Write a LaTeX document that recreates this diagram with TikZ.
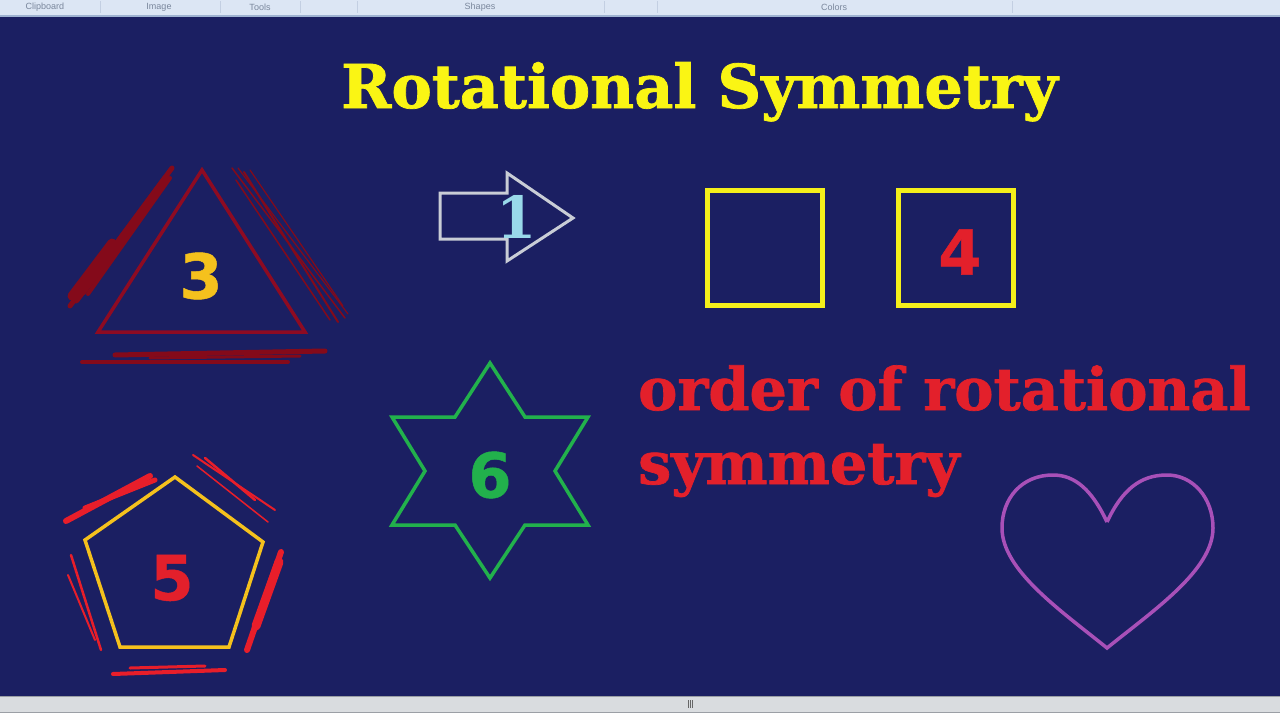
\documentclass[tikz,border=0pt]{standalone}
\usepackage{fontspec}
\usepackage{tikz}
\newfontfamily\slabfont{DejaVu Serif}
\newfontfamily\heavyfont{DejaVu Serif Bold}[FakeBold=1.2]
\newfontfamily\digitfont{DejaVu Sans Bold}[FakeBold=0.8]
\newfontfamily\uifont{Liberation Sans}
\definecolor{Navy}       {HTML}{1B1F62}
\definecolor{BarBlue}    {HTML}{DCE6F4}
\definecolor{BarEdge}    {HTML}{9FB3D1}
\definecolor{BarSep}     {HTML}{C3CFE2}
\definecolor{BarText}    {HTML}{7A879C}
\definecolor{ScrollGrey} {HTML}{D9DCDF}
\definecolor{ScrollEdge} {HTML}{9A9EA4}
\definecolor{TitleYellow}{HTML}{FAF514}
\definecolor{OrderRed}   {HTML}{E3202B}
\definecolor{TriRed}     {HTML}{8E0B22}
\definecolor{ScribRed}   {HTML}{840A1A}
\definecolor{Gold}       {HTML}{F5C11D}
\definecolor{ArrowGrey}  {HTML}{C9CDD6}
\definecolor{OneCyan}    {HTML}{99D9EA}
\definecolor{SqYellow}   {HTML}{F5EF1A}
\definecolor{StarGreen}  {HTML}{22B14C}
\definecolor{HeartPurple}{HTML}{A850B8}
\definecolor{PentRed}    {HTML}{E81E2A}

\begin{document}
\begin{tikzpicture}[x=1pt, y=-1pt,
  digit/.style={inner sep=0pt, font=\digitfont\fontsize{62}{62}\selectfont},
  outline/.style={line width=3.5pt, line join=miter},
  scrib/.style={line cap=round}]

  \useasboundingbox (0,0) rectangle (1280,720);
  \fill[Navy] (0,0) rectangle (1280,720);

  % ===== TOOLBAR (top) =====
  \fill[BarBlue] (0,0) rectangle (1280,15);
  \fill[BarEdge] (0,15) rectangle (1280,17);
  \foreach \x in {100,220,300,357,604,657,1012}
    \draw[BarSep, line width=0.8pt] (\x,1) -- (\x,13);
  \foreach \x/\lab/\nm in {45/Clipboard/tbClip,159/Image/tbImage,260/Tools/tbTools,480/Shapes/tbShapes,834/Colors/tbColors}
    \node[text=BarText, inner sep=0pt, font=\uifont\fontsize{9}{9}\selectfont] (\nm) at (\x,7) {\lab};

  % ===== SCROLLBAR (bottom) =====
  \fill[ScrollEdge] (0,696) rectangle (1280,697);
  \fill[ScrollGrey] (0,697) rectangle (1280,712);
  \fill[ScrollEdge] (0,712) rectangle (1280,713);
  \fill[white!94!ScrollGrey] (0,713) rectangle (1280,720);
  \foreach \x in {688,690,692}
    \draw[black!60, line width=0.7pt] (\x,700) -- (\x,708);

  % ===== TITLE =====
  \node[anchor=base west, inner sep=0pt, text=TitleYellow,
        font=\heavyfont\fontsize{60.5}{70}\selectfont] (title) at (341,108) {Rotational Symmetry};

  % ===== TRIANGLE (3) =====
  \draw[scrib, ScribRed, line width=5pt] (70,306) -- (172,168);
  \draw[scrib, ScribRed, line width=7pt] (76,300) -- (166,178);
  \draw[scrib, ScribRed, line width=8pt] (82,292) -- (154,196);
  \draw[scrib, ScribRed, line width=9pt] (72,296) -- (112,243);
  \draw[scrib, ScribRed, line width=4pt] (88,294) -- (170,178);
  \draw[scrib, ScribRed, line width=1.5pt] (232,168) -- (345,318);
  \draw[scrib, ScribRed, line width=1.2pt] (238,168) -- (348,314);
  \draw[scrib, ScribRed, line width=2pt] (244,172) -- (338,322);
  \draw[scrib, ScribRed, line width=1.2pt] (250,170) -- (343,306);
  \draw[scrib, ScribRed, line width=1.5pt] (236,180) -- (330,320);
  \draw[scrib, ScribRed, line width=4pt] (82,362) -- (288,362);
  \draw[scrib, ScribRed, line width=5pt] (115,355) -- (325,351);
  \draw[scrib, ScribRed, line width=3pt] (150,358) -- (300,356);
  \draw[outline, TriRed] (202,170) -- (305,332) -- (98,332) -- cycle;
  \node[digit, text=Gold] (numThree) at (201,276) {3};

  % ===== ARROW (1) =====
  \draw[outline, ArrowGrey, line width=3pt]
        (440,193) -- (507,193) -- (507,173) -- (573,218) -- (507,261) -- (507,239) -- (440,239) -- cycle;
  \node[inner sep=0pt, text=OneCyan, font=\slabfont\bfseries\fontsize{58}{58}\selectfont] (numOne) at (517,217) {1};

  % ===== SQUARES (4) =====
  \draw[outline, SqYellow, line width=4.5pt] (707.5,190.5) rectangle (822.5,305.5);
  \draw[outline, SqYellow, line width=4.5pt] (898.5,190.5) rectangle (1013.5,305.5);
  \node[digit, text=OrderRed] (numFour) at (960,252) {4};

  % ===== STAR (6) =====
  \draw[outline, StarGreen]
        (490,363) -- (455,417) -- (392,417) -- (425,471) -- (392,525) -- (455,525)
        -- (490,578) -- (525,525) -- (588,525) -- (555,471) -- (588,417) -- (525,417) -- cycle;
  \node[digit, text=StarGreen] (numSix) at (490,475) {6};

  % ===== PENTAGON (5) =====
  \draw[scrib, PentRed, line width=6pt] (66,521) -- (150,476);
  \draw[scrib, PentRed, line width=5pt] (85,508) -- (155,480);
  \draw[scrib, PentRed, line width=2pt] (193,455) -- (275,510);
  \draw[scrib, PentRed, line width=1.5pt] (197,466) -- (268,522);
  \draw[scrib, PentRed, line width=2.5pt] (205,458) -- (255,500);
  \draw[scrib, PentRed, line width=6pt] (247,650) -- (281,552);
  \draw[scrib, PentRed, line width=9pt] (256,626) -- (279,562);
  \draw[scrib, PentRed, line width=2.5pt] (71,555) -- (101,650);
  \draw[scrib, PentRed, line width=2pt] (68,575) -- (95,640);
  \draw[scrib, PentRed, line width=4pt] (113,674) -- (225,670);
  \draw[scrib, PentRed, line width=3pt] (130,668) -- (205,666);
  \draw[outline, Gold] (175,477) -- (263,542) -- (229,647) -- (120,647) -- (85,540) -- cycle;
  \node[digit, text=OrderRed] (numFive) at (172,578) {5};

  % ===== ORDER TEXT =====
  \node[anchor=base west, inner sep=0pt, text=OrderRed,
        font=\heavyfont\fontsize{58.8}{60}\selectfont] (orderLineA) at (638,410) {order of rotational};
  \node[anchor=base west, inner sep=0pt, text=OrderRed,
        font=\heavyfont\fontsize{58.8}{60}\selectfont] (orderLineB) at (638,484) {symmetry};

  % ===== HEART =====
  \draw[outline, HeartPurple, line width=3.5pt]
        (1107,522) .. controls (1092,490) and (1075,475) .. (1053,475)
        .. controls (1022,475) and (1002,498) .. (1002,528)
        .. controls (1002,570) and (1060,610) .. (1107,648)
        .. controls (1154,610) and (1213,570) .. (1213,528)
        .. controls (1213,498) and (1193,475) .. (1167,475)
        .. controls (1140,475) and (1122,490) .. (1107,522);

\end{tikzpicture}
\end{document}
